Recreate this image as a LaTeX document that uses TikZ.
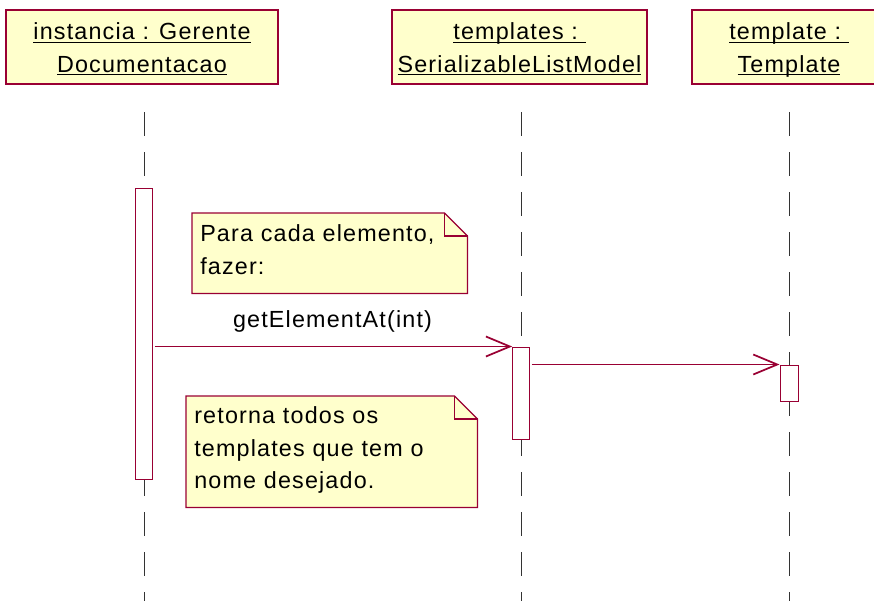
\documentclass[tikz,border=0pt]{standalone}
\usepackage{fontspec}
\setmainfont{Liberation Sans}[LetterSpace=5]
\usepackage{tikz}
\usetikzlibrary{arrows.meta,calc,backgrounds}
\definecolor{Wine}{HTML}{990033}
\definecolor{NoteFill}{HTML}{FFFFCC}
\definecolor{Life}{HTML}{333333}
\newcommand\uline[1]{\underline{\smash{#1}}\vphantom{Tp}}
\newcommand\objname[2]{\rule{0pt}{17.5pt}\uline{#1}\\\uline{#2}}

\begin{document}
\begin{tikzpicture}[x=0.75pt,y=-0.75pt,font=\fontsize{17.5}{24.5}\selectfont,
  obj/.style={draw=Wine,fill=NoteFill,line width=1pt,minimum height=55.5pt,align=center,inner sep=0pt},
  act/.style={draw=Wine,fill=white,line width=0.75pt,minimum width=12.5pt,inner sep=0pt},
  lifeline/.style={Life,line width=0.75pt,dash pattern=on 18pt off 12pt},
  msg/.style={Wine,line width=0.75pt,-{Straight Barb[length=18pt,width=15pt,line width=1.3pt]}},
  msglabel/.style={text=black,inner sep=0pt},
  notebox/.style={align=left,inner xsep=6pt,inner ysep=0pt,anchor=north west,
    execute at end node=\rule[-6pt]{0pt}{6pt}}]
\useasboundingbox (0,0) rectangle (874,601);
\clip (0,0) rectangle (874,601);
% lifelines
\foreach \n/\x in {1/144,2/521,3/789}{
  \coordinate (top\n) at (\x,112);
  \coordinate (bot\n) at (\x,601);
  \draw[lifeline] (top\n) -- (bot\n);
}
% objects
\node[obj,minimum width=204pt] (gerente) at (142,47) {\objname{instancia : Gerente}{Documentacao}};
\node[obj,minimum width=191.25pt] (lista) at (519.5,47) {\objname{templates :\ }{SerializableListModel}};
\node[obj,minimum width=145.5pt] (tmpl) at (789,47) {\objname{template :\ }{Template}};
% activations
\node[act,minimum height=218.25pt] (act1) at (144,333.5) {};
\node[act,minimum height=69pt] (act2) at (521,393) {};
\node[act,minimum height=27pt,minimum width=13.5pt] (act3) at (789,383) {};
% messages
\draw[msg,shorten <=1.5pt] (act1.east |- act2.north west) -- node[above=10pt,msglabel] (getlbl) {getElementAt(int)} (act2.north west);
\draw[msg,shorten <=1.5pt] (act2.east |- act3.north west) -- (act3.north west);
% notes
\node[notebox,text width=194.25pt,minimum height=60pt] (note1) at (192,213) {Para cada elemento,\\fazer:};
\node[notebox,text width=206.25pt,minimum height=83.25pt] (note2) at (186,396) {retorna todos os\\templates que tem o\\nome desejado.};
\begin{scope}[on background layer]
\foreach \n in {note1,note2}{
  \draw[Wine,fill=NoteFill,line width=1pt] (\n.north west) -- ($(\n.north east)+(-23,0)$) -- ($(\n.north east)+(0,23)$) -- (\n.south east) -- (\n.south west) -- cycle;
  \draw[Wine,line width=1pt] ($(\n.north east)+(-23,0)$) |- ($(\n.north east)+(0,23)$);
}
\end{scope}
\end{tikzpicture}
\end{document}
